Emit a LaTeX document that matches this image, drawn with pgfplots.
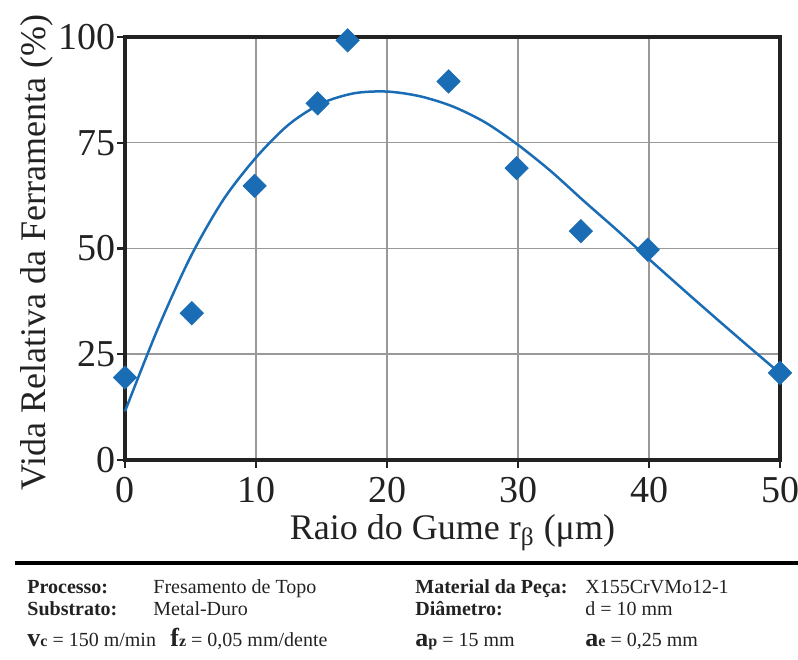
\documentclass[border=0pt]{standalone}
\usepackage{fontspec}
\setmainfont{Liberation Serif}
\usepackage{pgfplots}
\pgfplotsset{compat=1.18}
\definecolor{cblue}{RGB}{26,109,180}
\definecolor{axdark}{RGB}{34,34,34}
\begin{document}
\begin{tikzpicture}
\useasboundingbox (0,0) rectangle (399pt,329.5pt);
\begin{axis}[
  at={(62.5pt,99.5pt)}, anchor=south west,
  scale only axis, width=327.5pt, height=211.5pt,
  xmin=0, xmax=50, ymin=0, ymax=100,
  xtick={0,10,...,50}, ytick={0,25,...,100},
  grid=major, grid style={color=black!40, line width=0.75pt},
  axis line style={color=axdark, line width=1.6pt},
  tick style={color=axdark, line width=1.2pt},
  tick align=outside, major tick length=4pt,
  xtick pos=bottom, ytick pos=left,
  /pgf/number format/assume math mode=true,
  tick label style={font=\fontsize{19}{19}\selectfont, text=axdark},
  yticklabel style={xshift=3pt},
  xticklabel style={yshift=-1pt},
  label style={font=\fontsize{18}{18}\selectfont, text=axdark},
  xlabel={Raio do Gume r\textsubscript{β} (μm)},
  ylabel={Vida Relativa da Ferramenta (\%)},
  xlabel style={yshift=1pt},
  ylabel style={yshift=-4pt, xshift=-2pt},
  clip=false,
]
\addplot[color=cblue, line width=1.25pt, smooth, tension=0.5] coordinates {
(0,11.5) (2.5,31) (5,48) (7.5,61.5) (10,71.5) (12.5,79.3) (15,84.3) (17.5,86.7)
(20,87.1) (22.5,86) (25,83.6) (27.5,79.8) (30,74.5) (32.5,68.3) (35,61.3)
(37.5,54.5) (40,47.5) (42.5,40.6) (45,33.8) (47.5,27.1) (50,20.5)};
\addplot[only marks, mark=square*, mark size=4.1pt, mark options={rotate=45, fill=cblue, draw=cblue}] coordinates {
(0,19.5) (5.1,34.7) (9.9,64.8) (14.7,84.3) (17,99.2) (24.7,89.5) (29.9,69) (34.8,54.1) (39.9,49.7) (50,20.6)};
\end{axis}
\draw[line width=2pt, color=black] (7.5pt,48pt) -- (399pt,48pt);
\begin{scope}[every node/.style={anchor=base west, inner sep=0pt, text=axdark, font=\fontsize{10}{10}\selectfont}]
\node at (13.5pt,33pt) {\bfseries Processo:};
\node at (76.5pt,33pt) {Fresamento de Topo};
\node at (207.5pt,33pt) {\bfseries Material da Peça:};
\node at (292.5pt,33pt) {X155CrVMo12-1};
\node at (13.5pt,22pt) {\bfseries Substrato:};
\node at (76.5pt,22pt) {Metal-Duro};
\node at (207.5pt,22pt) {\bfseries Diâmetro:};
\node at (292.5pt,22pt) {d = 10 mm};
\node at (13.5pt,6.5pt) {{\fontsize{13}{13}\selectfont\bfseries v}{\fontsize{8}{8}\selectfont\bfseries c} = 150 m/min};
\node at (85pt,6.5pt) {{\fontsize{13}{13}\selectfont\bfseries f}{\fontsize{8}{8}\selectfont\bfseries z} = 0,05 mm/dente};
\node at (207.5pt,6.5pt) {{\fontsize{13}{13}\selectfont\bfseries a}{\fontsize{8}{8}\selectfont\bfseries p} = 15 mm};
\node at (292.5pt,6.5pt) {{\fontsize{13}{13}\selectfont\bfseries a}{\fontsize{8}{8}\selectfont\bfseries e} = 0,25 mm};
\end{scope}
\end{tikzpicture}
\end{document}
